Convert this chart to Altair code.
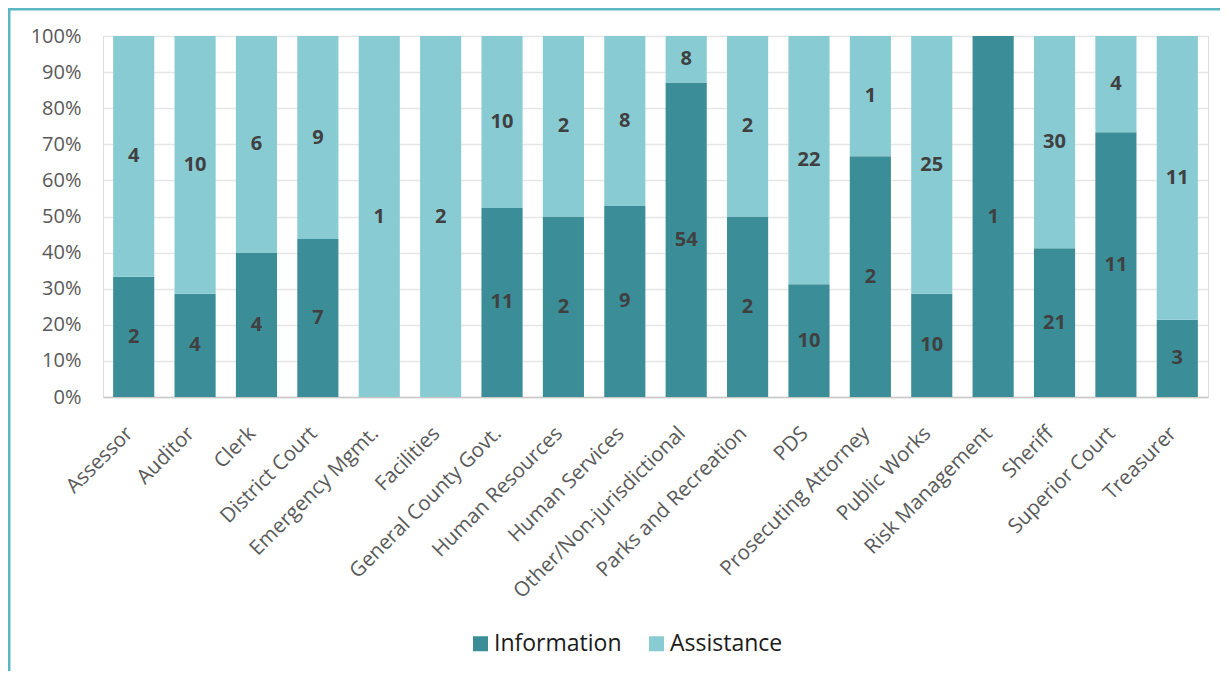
import altair as alt
import pandas as pd

categories = ["Assessor", "Auditor", "Clerk", "District Court", "Emergency Mgmt.", "Facilities",
              "General County Govt.", "Human Resources", "Human Services", "Other/Non-jurisdictional",
              "Parks and Recreation", "PDS", "Prosecuting Attorney", "Public Works", "Risk Management",
              "Sheriff", "Superior Court", "Treasurer"]
information = [2, 4, 4, 7, 0, 0, 11, 2, 9, 54, 2, 10, 2, 10, 1, 21, 11, 3]
assistance = [4, 10, 6, 9, 1, 2, 10, 2, 8, 8, 2, 22, 1, 25, 0, 30, 4, 11]
y_ticks = [0, 0.1, 0.2, 0.3, 0.4, 0.5, 0.6, 0.7, 0.8, 0.9, 1.0]
series_names = ["Information", "Assistance"]
series_colors = ["#3B8E97", "#89CBD3"]

rows = []
for c, i, a in zip(categories, information, assistance):
    tot = i + a
    pi = i / tot
    rows.append({"cat": c, "series": "Information", "count": i, "y0": 0.0, "y1": pi, "mid": pi / 2})
    rows.append({"cat": c, "series": "Assistance", "count": a, "y0": pi, "y1": 1.0, "mid": (pi + 1) / 2})
df = pd.DataFrame(rows)

FONT = "Open Sans"

x_axis = alt.Axis(labelAngle=-45, labelAlign="right", labelBaseline="middle",
                  labelFontSize=20.5, labelColor="#595959", labelPadding=33,
                  labelOffset=-4, labelLimit=0, labelOverlap=False,
                  ticks=False, domainColor="#C8C8C8", domainWidth=1.5,
                  labelFont=FONT)
y_axis = alt.Axis(format="%", values=y_ticks, ticks=False,
                  domain=False, labelFontSize=20, labelColor="#595959",
                  labelPadding=22, gridColor="#E6E6E6", gridWidth=1.5,
                  labelOverlap=False, labelFont=FONT)
x_scale = alt.Scale(paddingInner=0.33, paddingOuter=0.165)
y_scale = alt.Scale(domain=[0, 1])

bars = alt.Chart(df).mark_bar(opacity=1).encode(
    x=alt.X("cat:N", sort=categories, title=None, scale=x_scale, axis=x_axis),
    y=alt.Y("y0:Q", title=None, scale=y_scale, axis=y_axis),
    y2="y1:Q",
    color=alt.Color("series:N", scale=alt.Scale(domain=series_names, range=series_colors),
                    legend=alt.Legend(title=None, orient="none", legendX=366, legendY=596,
                                      direction="horizontal", symbolType="square",
                                      symbolSize=225, symbolStrokeWidth=0,
                                      labelFontSize=23, labelColor="#1A1A1A",
                                      labelFont=FONT, labelOffset=2, columnPadding=23)),
)

labels = alt.Chart(df).transform_filter("datum.count > 0").mark_text(
    font=FONT, fontSize=20, fontWeight="bold", color="#404040"
).encode(
    x=alt.X("cat:N", sort=categories, title=None, scale=x_scale, axis=x_axis),
    y=alt.Y("mid:Q", title=None, scale=y_scale, axis=y_axis),
    text="count:Q",
)

one = pd.DataFrame({"a": [0]})
frame_left = alt.Chart(one).mark_rule(color="#5BB8C2", strokeWidth=3).encode(
    x=alt.value(-94), y=alt.value(-27), y2=alt.value(700))
frame_top = alt.Chart(one).mark_rule(color="#5BB8C2", strokeWidth=3).encode(
    x=alt.value(-95), x2=alt.value(1200), y=alt.value(-27))

chart = alt.layer(bars, labels, frame_left, frame_top).properties(
    width=1105, height=361,
    autosize=alt.AutoSizeParams(type="none"),
    padding={"left": 95, "top": 28, "right": 12, "bottom": 274},
).configure_view(stroke="transparent", strokeWidth=0).configure(font=FONT)

chart.save("out.html", embed_options={"renderer": "svg", "actions": False})
